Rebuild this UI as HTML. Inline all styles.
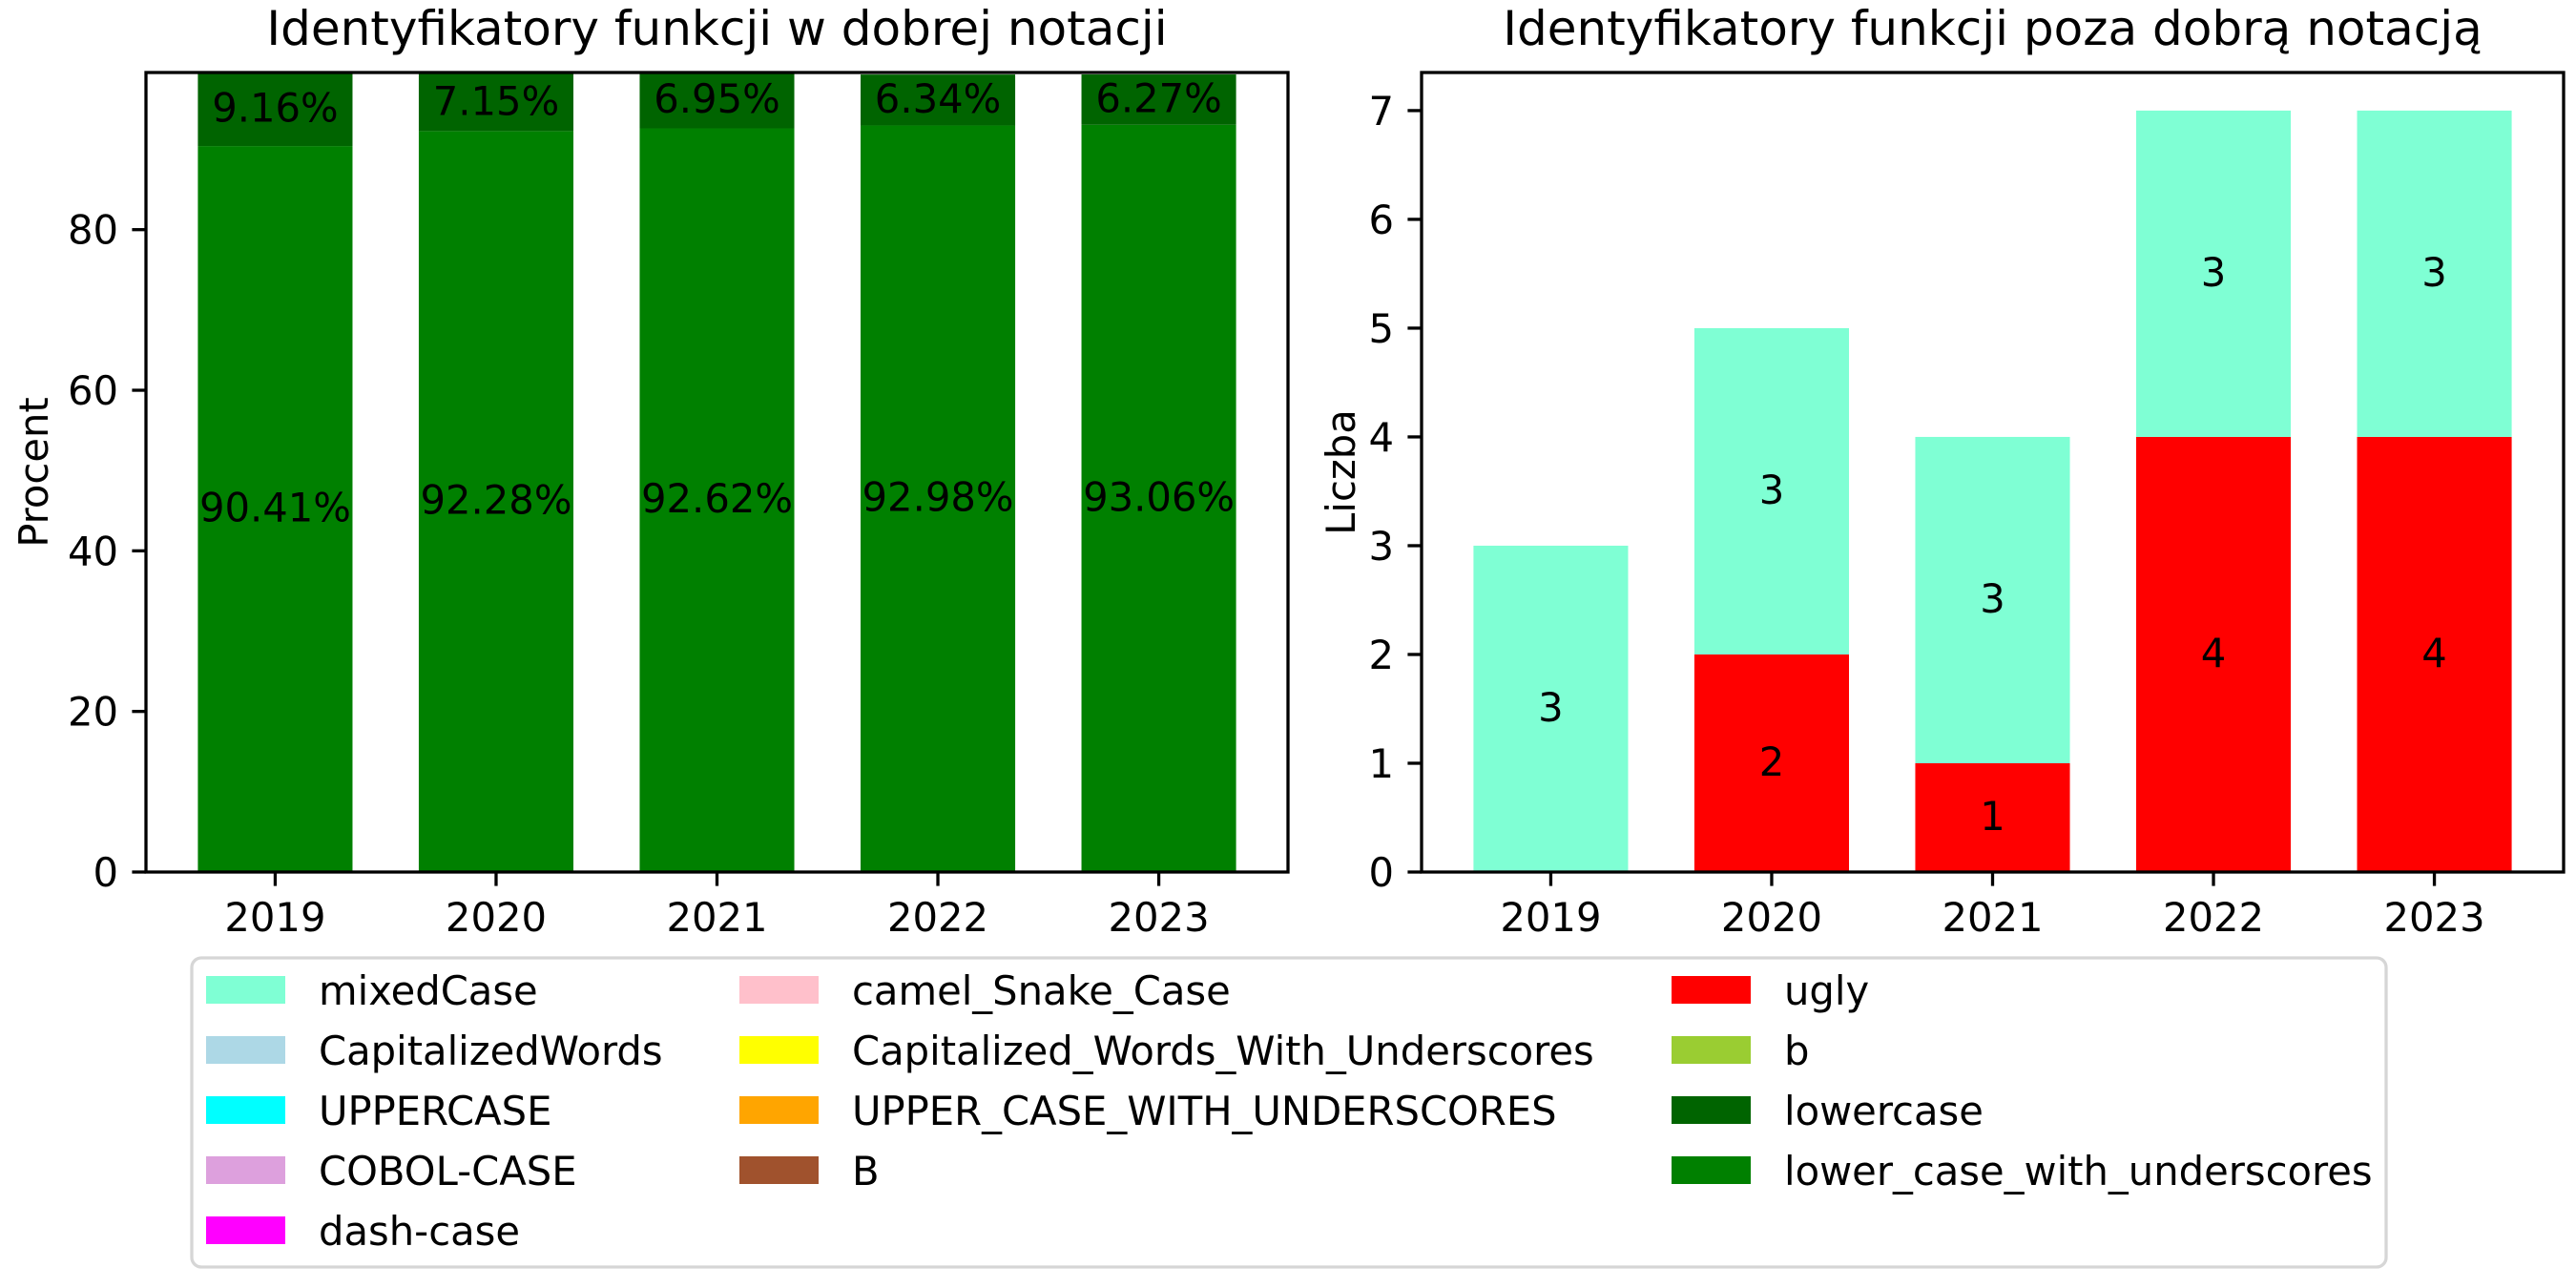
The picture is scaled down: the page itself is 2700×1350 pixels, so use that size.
<!DOCTYPE html>
<html><head><meta charset="utf-8"><style>
html,body{margin:0;padding:0;background:#fff;}
svg{display:block;font-family:"DejaVu Sans","Liberation Sans",sans-serif;}
</style></head><body>
<svg id="fig" width="2700" height="1350" viewBox="0 0 2700 1350" xmlns="http://www.w3.org/2000/svg"></svg>
<script>
const years = ["2019","2020","2021","2022","2023"];
const lowerUnderscorePct = [90.41, 92.28, 92.62, 92.98, 93.06];
const lowercasePct = [9.16, 7.15, 6.95, 6.34, 6.27];
const uglyCount = [0, 2, 1, 4, 4];
const mixedCaseCount = [3, 3, 3, 3, 3];
const leftTicks = [0, 20, 40, 60, 80];
const rightTicks = [0, 1, 2, 3, 4, 5, 6, 7];
const legendLabels = ["mixedCase","CapitalizedWords","UPPERCASE","COBOL-CASE","dash-case","camel_Snake_Case","Capitalized_Words_With_Underscores","UPPER_CASE_WITH_UNDERSCORES","B","ugly","b","lowercase","lower_case_with_underscores"];
const legendColors = ["#7fffd4","#add8e6","#00ffff","#dda0dd","#ff00ff","#ffc0cb","#ffff00","#ffa500","#a0522d","#ff0000","#9acd32","#006400","#008000"];

const NS = "http://www.w3.org/2000/svg";
const svg = document.getElementById("fig");
function el(tag, attrs, parent, text) {
  const e = document.createElementNS(NS, tag);
  for (const k in attrs) e.setAttribute(k, attrs[k]);
  if (text !== undefined) e.textContent = text;
  (parent || svg).appendChild(e);
  return e;
}
const FS = 41.7;

function drawAxes(cfg) {
  const g = el("g", {});
  
  
  const L = cfg.left, R = cfg.right, T = 76, B = 914;
  const xmin = -0.585, xmax = 4.585;
  const xs = v => L + (v - xmin) / (xmax - xmin) * (R - L);
  const ys = v => B - v / cfg.ymax * (B - T);
  const bw = 0.7 * (R - L) / (xmax - xmin);
  cfg.series.forEach(s => {
    years.forEach((y, i) => {
      const v = s.values[i];
      if (!v) return;
      const base = s.base ? s.base[i] : 0;
      const r = el("rect", {x: xs(i) - bw / 2, y: ys(base + v), width: bw, height: ys(base) - ys(base + v), fill: s.color}, g);
      
      
      const t = el("text", {x: xs(i), y: ys(base + v / 2) + 13, "text-anchor": "middle", "font-size": FS, fill: "#000"}, g, s.fmt(v));
      
      
    });
  });
  const fr = el("rect", {x: L, y: T, width: R - L, height: B - T, fill: "none", stroke: "#000", "stroke-width": 3.3}, g);
  
  
  cfg.ticks.forEach(tv => {
    const y = ys(tv);
    el("line", {x1: L - 14.6, x2: L, y1: y, y2: y, stroke: "#000", "stroke-width": 3.3}, g);
    const t = el("text", {x: L - 29, y: y + 15, "text-anchor": "end", "font-size": FS}, g, String(tv));
    
    
  });
  years.forEach((yr, i) => {
    const x = xs(i);
    el("line", {x1: x, x2: x, y1: B, y2: B + 14.6, stroke: "#000", "stroke-width": 3.3}, g);
    const t = el("text", {x: x, y: 976, "text-anchor": "middle", "font-size": FS}, g, yr);
    
    
  });
  const ttl = el("text", {x: (L + R) / 2, y: 47, "text-anchor": "middle", "font-size": 50}, g, cfg.title);
  
  
  const yl = el("text", {x: 0, y: 0, "text-anchor": "middle", "font-size": FS, transform: "translate(" + cfg.ylabelX + "," + ((T + B) / 2) + ") rotate(-90)"}, g, cfg.ylabel);
  
  
}

drawAxes({
  name: "left-chart-percent", left: 153, right: 1350,
  ymax: Math.max(...lowerUnderscorePct.map((v, i) => v + lowercasePct[i])),
  ticks: leftTicks, title: "Identyfikatory funkcji w dobrej notacji", ylabel: "Procent", ylabelX: 50,
  series: [
    {key: "lower-case-with-underscores", values: lowerUnderscorePct, color: "#008000", fmt: v => v.toFixed(2) + "%"},
    {key: "lowercase", values: lowercasePct, base: lowerUnderscorePct, color: "#006400", fmt: v => v.toFixed(2) + "%"}
  ]
});
drawAxes({
  name: "right-chart-count", left: 1490, right: 2687,
  ymax: 7 * 1.05,
  ticks: rightTicks, title: "Identyfikatory funkcji poza dobrą notacją", ylabel: "Liczba", ylabelX: 1420,
  series: [
    {key: "ugly", values: uglyCount, color: "#ff0000", fmt: v => String(v)},
    {key: "mixedcase", values: mixedCaseCount, base: uglyCount, color: "#7fffd4", fmt: v => String(v)}
  ]
});

const lg = el("g", {});


el("rect", {x: 201, y: 1004, width: 2300, height: 324, rx: 10, fill: "#fff", stroke: "#d6d6d6", "stroke-width": 3.3}, lg);
const colPatchX = [216, 775, 1752];
const colRows = [5, 4, 4];
let idx = 0;
colRows.forEach((n, c) => {
  for (let r = 0; r < n; r++) {
    const y0 = 1023 + r * 63;
    const e = el("g", {}, lg);
    
    
    el("rect", {x: colPatchX[c], y: y0, width: 83, height: 29, fill: legendColors[idx]}, e);
    el("text", {x: colPatchX[c] + 118, y: y0 + 30, "font-size": FS}, e, legendLabels[idx]);
    idx++;
  }
});
</script>
</body></html>
